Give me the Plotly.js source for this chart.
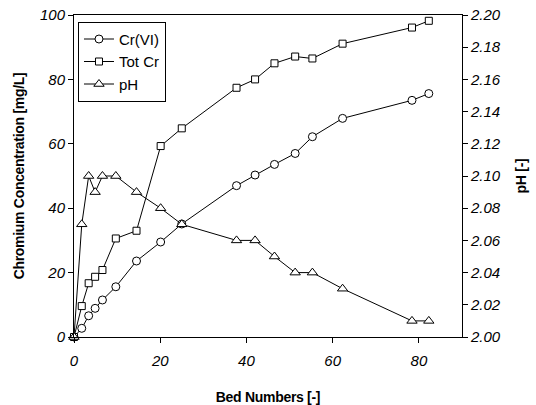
<!DOCTYPE html>
<html>
<head>
<meta charset="utf-8">
<script src="https://cdn.plot.ly/plotly-3.0.1.min.js"></script>
<style>
html,body{margin:0;padding:0;background:#fff;}
#chart{width:536px;height:405px;}
.xtitle, .ytitle, .y2title { letter-spacing: -0.3px; }
</style>
</head>
<body>
<div id="chart"></div>
<script>
// Bed numbers (x) for each measurement
const bedNumbers = [0, 1.8, 3.4, 4.9, 6.6, 9.7, 14.5, 20.1, 25, 37.7, 42, 46.5, 51.3, 55.3, 62.3, 78.4, 82.3];
// Cr(VI) concentration [mg/L]
const crVI = [0, 2.7, 6.6, 8.9, 11.5, 15.6, 23.6, 29.5, 35.1, 47.0, 50.3, 53.6, 57.0, 62.2, 67.9, 73.5, 75.6];
// Total Cr concentration [mg/L]
const totCr = [0, 9.6, 16.7, 18.7, 20.8, 30.6, 33.0, 59.3, 64.8, 77.4, 80.0, 85.0, 87.1, 86.5, 91.1, 96.1, 98.2];
// pH [-]
const pH = [2.00, 2.07, 2.10, 2.09, 2.10, 2.10, 2.09, 2.08, 2.07, 2.06, 2.06, 2.05, 2.04, 2.04, 2.03, 2.01, 2.01];

// Tick labels
const xTicks = [0, 20, 40, 60, 80];
const yTicks = [0, 20, 40, 60, 80, 100];
const y2Ticks = [2.00, 2.02, 2.04, 2.06, 2.08, 2.10, 2.12, 2.14, 2.16, 2.18, 2.20];

const FONT = '"Liberation Sans", Arial, sans-serif';
const ital = (arr, d) => arr.map(v => '<i>' + v.toFixed(d) + '</i>');
const mk = (sym, size) => ({symbol: sym, size: size, color: '#ffffff', line: {color: '#000000', width: 1}});
const ln = {color: '#000000', width: 1};

const traces = [
  {x: bedNumbers, y: crVI, name: 'Cr(VI)', type: 'scatter', mode: 'lines+markers',
   line: ln, marker: mk('circle', 8), cliponaxis: false},
  {x: bedNumbers, y: totCr, name: 'Tot Cr', type: 'scatter', mode: 'lines+markers',
   line: ln, marker: mk('square', 7), cliponaxis: false},
  {x: bedNumbers, y: pH, name: 'pH', type: 'scatter', mode: 'lines+markers', yaxis: 'y2',
   line: ln, marker: mk('triangle-up', 9), cliponaxis: false}
];

const tickFont = {family: FONT, size: 15, color: '#000', style: 'italic'};
const titleFont = {family: FONT, size: 14, color: '#000', weight: 'bold'};

const layout = {
  width: 536, height: 405,
  margin: {l: 74, r: 74, t: 15, b: 68, pad: 0},
  paper_bgcolor: '#ffffff', plot_bgcolor: '#ffffff',
  showlegend: true,
  legend: {
    x: 0.0103, y: 0.979, xanchor: 'left', yanchor: 'top',
    bgcolor: '#ffffff', bordercolor: '#000000', borderwidth: 1,
    font: {family: FONT, size: 15, color: '#000'},
    tracegroupgap: 0, entrywidth: 92, entrywidthmode: 'pixels'
  },
  xaxis: {
    range: [0, 90], tickmode: 'array', tickvals: xTicks, ticktext: ital(xTicks, 0),
    showgrid: false, zeroline: false, showline: true, mirror: true, linecolor: '#000', linewidth: 1,
    ticks: 'outside', ticklen: 5, tickcolor: '#000', tickfont: tickFont, ticklabelstandoff: 5,
    title: {text: 'Bed Numbers [-]', font: titleFont, standoff: 24}
  },
  yaxis: {
    range: [0, 100], tickmode: 'array', tickvals: yTicks, ticktext: ital(yTicks, 0),
    showgrid: false, zeroline: false, showline: true, linecolor: '#000', linewidth: 1,
    ticks: 'outside', ticklen: 5, tickcolor: '#000', tickfont: tickFont,
    title: {text: 'Chromium Concentration [mg/L]', font: titleFont, standoff: 12}
  },
  yaxis2: {
    range: [2.0, 2.2], tickmode: 'array', tickvals: y2Ticks, ticktext: ital(y2Ticks, 2),
    overlaying: 'y', side: 'right',
    showgrid: false, zeroline: false, showline: true, linecolor: '#000', linewidth: 1,
    ticks: 'outside', ticklen: 5, tickcolor: '#000', tickfont: tickFont,
    title: {text: 'pH [-]', font: titleFont, standoff: 16}
  }
};

Plotly.newPlot('chart', traces, layout, {displayModeBar: false, staticPlot: true});
</script>
</body>
</html>
